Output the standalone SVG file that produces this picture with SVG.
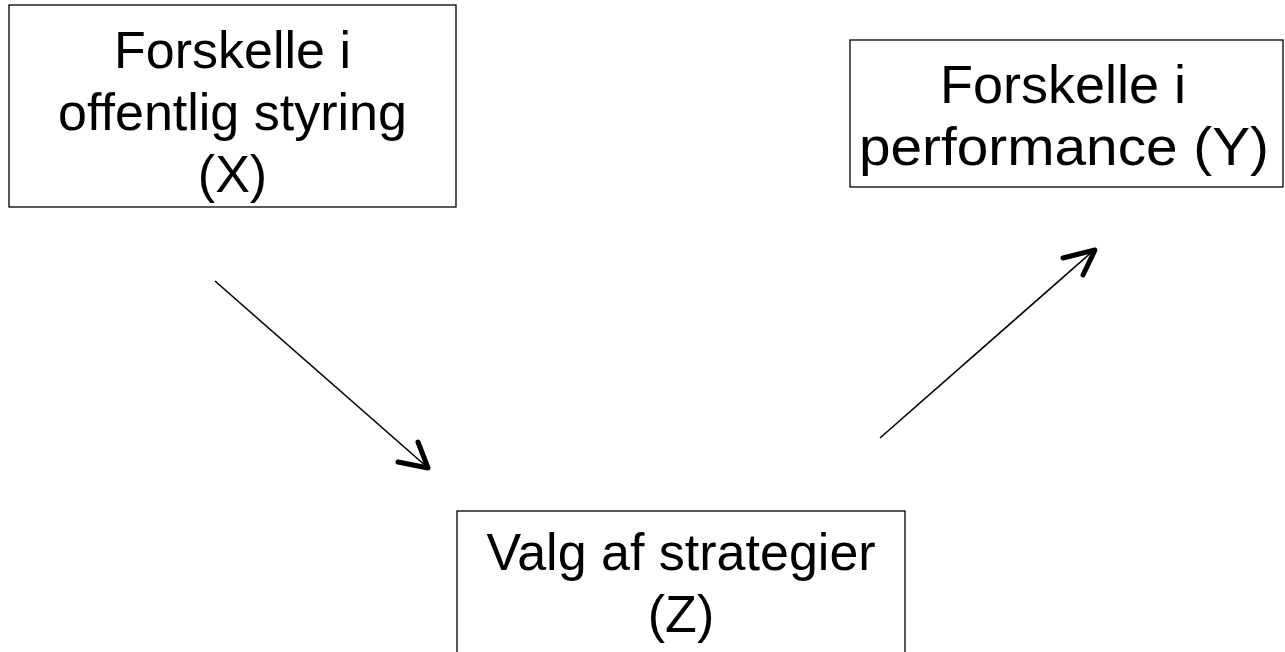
<svg xmlns="http://www.w3.org/2000/svg" width="1285" height="652" viewBox="0 0 1285 652">
<style>
.box{fill:#fff;stroke:#000;stroke-width:1.3}
.t{font-family:"Liberation Sans",Arial,sans-serif;font-size:52px;fill:#000;text-anchor:middle}
.ty{font-size:54px}
.ln{stroke:#000;stroke-width:1.6;fill:none}
.hd{stroke:#000;stroke-width:5;fill:none;stroke-linecap:round;stroke-linejoin:round}
</style>
<rect width="1285" height="652" fill="#fff"/>
<g id="nodeX">
<rect class="box" x="9" y="5" width="447" height="202"/>
<text class="t" x="232.5" y="68">Forskelle i</text>
<text class="t" x="232.5" y="130">offentlig styring</text>
<text class="t" x="232.5" y="192">(X)</text>
</g>
<g id="nodeY">
<rect class="box" x="850" y="40" width="433" height="147"/>
<text class="t ty" x="1063" y="103">Forskelle i</text>
<text class="t ty" x="1064" y="165" textLength="410" lengthAdjust="spacingAndGlyphs">performance (Y)</text>
</g>
<g id="nodeZ">
<rect class="box" x="457" y="511" width="448" height="150"/>
<text class="t" x="681" y="570">Valg af strategier</text>
<text class="t" x="681" y="632">(Z)</text>
</g>
<g id="connectors">
<line class="ln" x1="215" y1="281" x2="427" y2="467"/>
<polyline class="hd" points="398,462 428,468 418,442"/>
<line class="ln" x1="880" y1="438" x2="1093" y2="251"/>
<polyline class="hd" points="1063,258 1095,250 1083,275"/>
</g>
</svg>
